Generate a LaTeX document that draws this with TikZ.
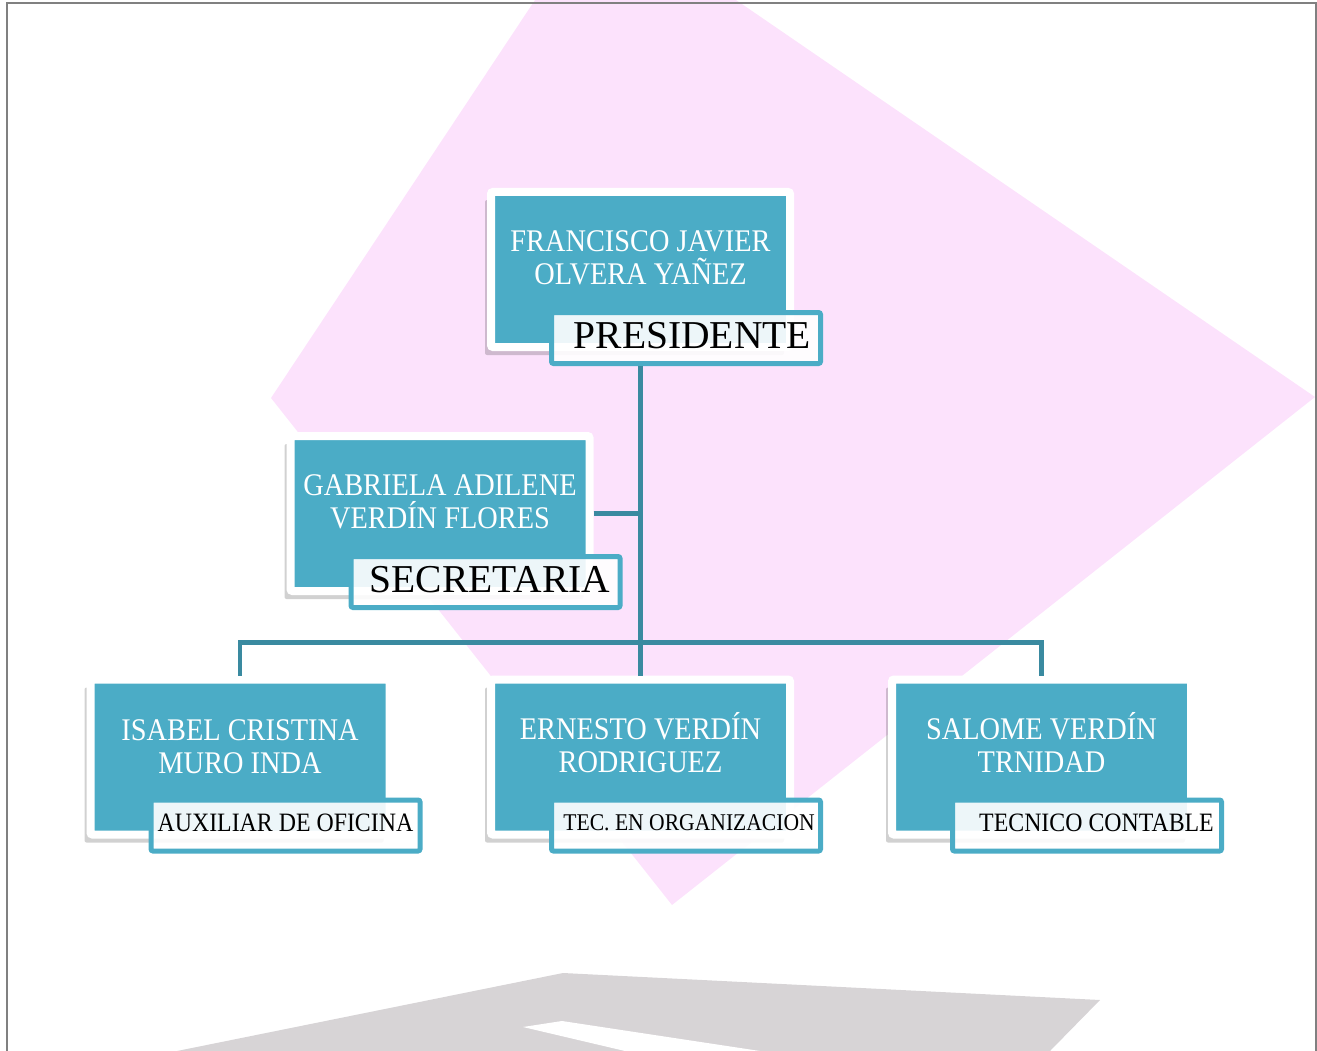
\documentclass[tikz,border=0pt]{standalone}
\usepackage{fontspec}
\usepackage{tikz}
\usetikzlibrary{calc,shadows}

\newfontfamily\namefont[FakeStretch=0.9]{Liberation Serif}
\newfontfamily\rolefont{Liberation Serif}

\definecolor{cardteal}{RGB}{75,172,198}
\definecolor{linkteal}{RGB}{58,138,160}
\definecolor{bgpink}{RGB}{252,226,252}
\definecolor{floorgray}{RGB}{215,212,214}
\definecolor{framegray}{RGB}{128,128,128}

\begin{document}
\begin{tikzpicture}[x=1pt, y=-1pt, inner sep=0pt,
    card/.style={fill=cardteal, draw=white, line width=8pt, rounded corners=2pt,
        minimum width=299pt, minimum height=155pt,
        drop shadow={shadow xshift=-6pt, shadow yshift=-8pt, opacity=0.18, fill=black}},
    cardname/.style={text=white, align=center,
        font={\namefont\fontsize{31.5pt}{33pt}\selectfont}},
    rolebox/.style={fill=white, fill opacity=0.9, text opacity=1, draw=cardteal,
        line width=5pt, rounded corners=2pt, minimum width=269pt, minimum height=51pt},
    roletitle/.style={anchor=east, font={\rolefont\fontsize{39.5pt}{39.5pt}\selectfont}},
    roleplain/.style={anchor=east, font={\namefont\fontsize{26.5pt}{26.5pt}\selectfont}},
    link/.style={draw=linkteal, line width=4.5pt}]

    \useasboundingbox (0,0) rectangle (1317,1051);

    % background
    \fill[bgpink] (535,0) -- (736,0) -- (1315,397) -- (672,905) -- (271,398) -- cycle;
    \fill[floorgray] (177,1051) -- (563,973) -- (1100,1000) -- (1050,1051) -- cycle;
    \fill[white] (523,1027) -- (562,1021) -- (760,1051) -- (625,1051) -- cycle;
    \draw[framegray, line width=2pt] (7,1055) -- (7,3) -- (1316,3) -- (1316,1055);

    % presidente
    \node[card] (pres) at (640.5, 269.5) {};
    \node[cardname] (pres_name) at ($(pres.center) + (0pt, 12pt)$)
    {FRANCISCO JAVIER\\ OLVERA YAÑEZ};
    \node[rolebox] (pres_role) at ($(pres.center) + (45.5pt, -68.5pt)$) {};
    \node[roletitle] (pres_role_txt) at ($(pres_role.east) + (-12pt, 2.5pt)$)
    {PRESIDENTE};

    % secretaria
    \node[card] (secr) at (440, 513.5) {};
    \node[cardname] (secr_name) at ($(secr.center) + (0pt, 12pt)$)
    {GABRIELA ADILENE\\ VERDÍN FLORES};
    \node[rolebox] (secr_role) at ($(secr.center) + (45.5pt, -68.5pt)$) {};
    \node[roletitle] (secr_role_txt) at ($(secr_role.east) + (-12pt, 2.5pt)$)
    {SECRETARIA};

    % auxiliar
    \node[card] (aux) at (240, 757) {};
    \node[cardname] (aux_name) at ($(aux.center) + (0pt, 10.5pt)$)
    {ISABEL CRISTINA\\ MURO INDA};
    \node[rolebox] (aux_role) at ($(aux.center) + (45.5pt, -68.5pt)$) {};
    \node[roleplain] (aux_role_txt) at ($(aux_role.east) + (-9pt, 2.5pt)$)
    {AUXILIAR DE OFICINA};

    % tecnico en organizacion
    \node[card] (tec) at (640.5, 757) {};
    \node[cardname] (tec_name) at ($(tec.center) + (0pt, 14pt)$)
    {ERNESTO VERDÍN\\ RODRIGUEZ};
    \node[rolebox] (tec_role) at ($(tec.center) + (45.5pt, -68.5pt)$) {};
    \node[roleplain, font={\namefont\fontsize{24pt}{24pt}\selectfont}] (tec_role_txt)
    at ($(tec_role.east) + (-8pt, 2.5pt)$)
    {TEC. EN ORGANIZACION};

    % tecnico contable
    \node[card] (cont) at (1041.5, 757) {};
    \node[cardname] (cont_name) at ($(cont.center) + (0pt, 14pt)$)
    {SALOME VERDÍN\\ TRNIDAD};
    \node[rolebox] (cont_role) at ($(cont.center) + (45.5pt, -68.5pt)$) {};
    \node[roleplain] (cont_role_txt) at ($(cont_role.east) + (-10pt, 2.5pt)$)
    {TECNICO CONTABLE};

    % links
    \draw[link] (pres.center |- pres_role.south) -- (tec.north);
    \draw[link] (secr.east) -- (secr.east -| pres.center);
    \draw[link] (aux.north) -- ($(aux.north) + (0pt, 33pt)$) -| (cont.north);

\end{tikzpicture}
\end{document}
